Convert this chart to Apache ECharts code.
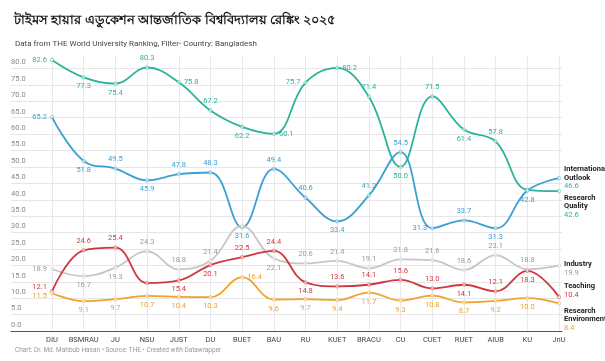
<!DOCTYPE html>
<html>
<head>
<meta charset="utf-8">
<script src="https://cdn.jsdelivr.net/npm/echarts@6/dist/echarts.min.js"></script>
<style>
html,body{margin:0;padding:0;background:#fff;}
#chart{width:605px;height:361px;}
</style>
</head>
<body>
<div id="chart"></div>
<script>
// ---- Data ----
const categories = ['DIU','BSMRAU','JU','NSU','JUST','DU','BUET','BAU','RU','KUET','BRACU','CU','CUET','RUET','AIUB','KU','JnU'];
const researchQuality      = [82.6,77.3,75.4,80.3,75.8,67.2,62.2,60.1,75.7,80.2,71.4,50.0,71.5,61.4,57.8,43.0,42.6];
const internationalOutlook = [65.2,51.8,49.5,45.9,47.8,48.3,31.6,49.4,40.6,33.4,41.3,54.5,31.3,33.7,31.3,42.8,46.6];
const industry             = [18.9,16.7,19.3,24.3,18.8,21.4,32.0,22.1,20.6,21.4,19.1,21.8,21.6,18.6,23.1,18.8,19.9];
const teaching             = [12.1,24.6,25.4,14.6,15.4,20.1,22.5,24.4,14.8,13.6,14.1,15.6,13.0,14.1,12.1,18.3,10.4];
const researchEnvironment  = [11.5,9.1,9.7,10.7,10.4,10.3,16.4,9.6,9.7,9.4,11.7,9.3,10.8,8.7,9.2,10.0,8.4];
const yTicks = [0,5,10,15,20,25,30,35,40,45,50,55,60,65,70,75,80];

const titleText = 'টাইমস হায়ার এডুকেশন আন্তর্জাতিক বিশ্ববিদ্যালয় রেঙ্কিং ২০২৫';
const subtitleText = 'Data from THE World University Ranking, Filter- Country: Bangladesh';
const footerText = 'Chart: Dr. Md. Mahbub Hasan \u2022 Source: THE \u2022 Created with Datawrapper';

// ---- Label placement (style, kept apart from the values) ----
const posGreen  = ['left','bottom','bottom','top','right','top','bottom','right','left','right','top','bottom','top','bottom','top',null,null];
const posBlue   = ['left','bottom','top','bottom','top','top','bottom','top','top','bottom','top','top','left','top','bottom','bottom',null];
const posGray   = ['left','bottom','bottom','top','top','top',null,'bottom','top','top','top','top','top','top','top','top',null];
const posRed    = ['left','top','top',null,'bottom','bottom','top','top','bottom','top','top','top','top','bottom','top','bottom',null];
const posOrange = ['left','bottom','bottom','bottom','bottom','bottom','right','bottom','bottom','bottom','bottom','bottom','bottom','bottom','bottom','bottom',null];
const shiftRed    = {0: [0, -4]};
const shiftOrange = {0: [0, 3]};

const FONT = 'Roboto, "Noto Sans", sans-serif';
const C = {green:'#2bb39a', blue:'#3b9fd2', gray:'#c6c6c6', grayText:'#9a9a9a', red:'#d0363f', orange:'#f0a22e'};

function build(values, pos, shift) {
  return values.map((v, i) => {
    const lab = pos[i] ? {show: true, position: pos[i]} : {show: false};
    if (shift && shift[i]) lab.offset = shift[i];
    return {value: v, label: lab};
  });
}

function lineSeries(name, values, pos, shift, color, textColor, endName, endOffset) {
  return {
    name: name,
    type: 'line',
    xAxisIndex: 0,
    yAxisIndex: 0,
    smooth: 0.4,
    clip: false,
    data: build(values, pos, shift),
    color: color,
    lineStyle: {color: color, width: 1.8},
    symbol: 'circle',
    symbolSize: 3.5,
    itemStyle: {color: '#ffffff', borderColor: color, borderWidth: 0.8, opacity: 0.6},
    label: {fontSize: 7.5, fontFamily: FONT, color: textColor, distance: 3, opacity: 1,
            formatter: p => p.value.toFixed(1)},
    endLabel: {
      show: true,
      offset: endOffset,
      distance: 5,
      formatter: p => endName.map(n => '{n|' + n + '}').join('\n') + '\n{v|' + p.value.toFixed(1) + '}',
      rich: {
        n: {fontSize: 7.5, fontWeight: 'bold', color: '#222', fontFamily: FONT, lineHeight: 8.5},
        v: {fontSize: 7.5, color: textColor, fontFamily: FONT, lineHeight: 8.5}
      }
    },
    emphasis: {disabled: true},
    z: 3
  };
}

const chart = echarts.init(document.getElementById('chart'), null, {renderer: 'canvas'});
const option = {
  animation: false,
  backgroundColor: '#fff',
  title: [
    {text: titleText, left: 9, top: 9,
     textStyle: {fontSize: 13, fontWeight: 'bold', color: '#1a1a1a', fontFamily: '"Noto Sans", sans-serif'}},
    {text: subtitleText, left: 10, top: 35,
     textStyle: {fontSize: 8, fontWeight: 'normal', color: '#444', fontFamily: FONT}},
    {text: footerText, left: 10, bottom: 2,
     textStyle: {fontSize: 6.5, fontWeight: 'normal', color: '#999', fontFamily: FONT}}
  ],
  grid: [
    {left: 52, right: 46, top: 55, bottom: 30},
    {left: 11, right: 43, top: 68.5, bottom: 30}
  ],
  xAxis: [
    {type: 'category', gridIndex: 0, data: categories, boundaryGap: false,
     axisLine: {show: false}, axisTick: {show: false},
     axisLabel: {interval: 0, fontSize: 7.5, color: '#444', fontFamily: FONT, margin: 5},
     splitLine: {show: true, lineStyle: {color: '#e9e9e9', width: 1}}},
    {type: 'value', gridIndex: 1, min: 0, max: 1,
     axisLine: {show: true, lineStyle: {color: '#555', width: 1.2}},
     axisTick: {show: false}, axisLabel: {show: false}, splitLine: {show: false}}
  ],
  yAxis: [
    {type: 'value', gridIndex: 0, min: 0, max: 84.11, show: false, splitLine: {show: false}},
    {type: 'value', gridIndex: 1, min: yTicks[0], max: yTicks[yTicks.length - 1], interval: 5,
     axisLine: {show: false}, axisTick: {show: false},
     axisLabel: {inside: true, align: 'left', verticalAlign: 'bottom', margin: 0, padding: [0, 0, 2, 0],
                 fontSize: 7.5, color: '#888', fontFamily: FONT, formatter: v => v.toFixed(1)},
     splitLine: {show: true, lineStyle: {color: '#e6e6e6', width: 1}}}
  ],
  series: [
    lineSeries('Research Quality', researchQuality, posGreen, null, C.green, C.green, ['Research', 'Quality'], [0, 15]),
    lineSeries('International Outlook', internationalOutlook, posBlue, null, C.blue, C.blue, ['International', 'Outlook'], [0, 0]),
    lineSeries('Industry', industry, posGray, null, C.gray, C.grayText, ['Industry'], [0, 3]),
    lineSeries('Teaching', teaching, posRed, shiftRed, C.red, C.red, ['Teaching'], [0, -6]),
    lineSeries('Research Environment', researchEnvironment, posOrange, shiftOrange, C.orange, C.orange, ['Research', 'Environment'], [0, 16])
  ]
};
chart.setOption(option);
</script>
</body>
</html>
